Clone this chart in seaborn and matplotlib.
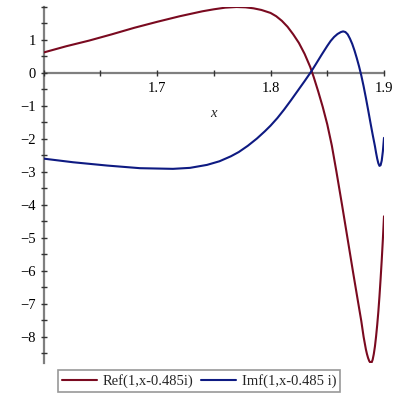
import matplotlib
matplotlib.use("Agg")
import matplotlib.pyplot as plt
import seaborn as sns
import pandas as pd
from matplotlib.ticker import MultipleLocator

# Ref curve (red)
ref_x = [1.600, 1.620, 1.640, 1.660, 1.680, 1.700, 1.720, 1.740, 1.750, 1.760,
         1.770, 1.778, 1.785, 1.792, 1.800, 1.805, 1.810, 1.815, 1.820, 1.825,
         1.830, 1.835, 1.838, 1.842, 1.846, 1.850, 1.854, 1.858, 1.863, 1.868,
         1.873, 1.877, 1.880, 1.882, 1.884, 1.885, 1.886, 1.887, 1.888, 1.889,
         1.890, 1.891, 1.892, 1.893, 1.894, 1.895, 1.896, 1.897, 1.898, 1.899,
         1.900]
ref_y = [0.62, 0.81, 0.98, 1.17, 1.37, 1.55, 1.72, 1.87, 1.93, 1.98,
         2.00, 1.99, 1.96, 1.91, 1.82, 1.72, 1.58, 1.40, 1.17, 0.91,
         0.58, 0.18, -0.12, -0.56, -1.03, -1.56, -2.20, -2.98, -4.00, -5.05,
         -6.10, -6.92, -7.53, -8.00, -8.38, -8.53, -8.65, -8.74, -8.79, -8.79,
         -8.70, -8.53, -8.30, -8.00, -7.65, -7.25, -6.78, -6.25, -5.68, -5.05,
         -4.35]

# Imf curve (blue)
imf_x = [1.600, 1.626, 1.656, 1.685, 1.714, 1.729, 1.744, 1.755, 1.765, 1.772,
         1.780, 1.788, 1.795, 1.800, 1.806, 1.812, 1.818, 1.824, 1.830, 1.836,
         1.840, 1.845, 1.850, 1.853, 1.856, 1.859, 1.862, 1.864, 1.866, 1.868,
         1.870, 1.872, 1.874, 1.876, 1.878, 1.880, 1.882, 1.884, 1.886, 1.888,
         1.890, 1.892, 1.893, 1.894, 1.895, 1.896, 1.897, 1.898, 1.899, 1.900]
imf_y = [-2.60, -2.71, -2.81, -2.89, -2.91, -2.88, -2.79, -2.68, -2.53, -2.40,
         -2.21, -1.99, -1.77, -1.60, -1.37, -1.11, -0.83, -0.54, -0.25, 0.05,
         0.27, 0.55, 0.82, 0.97, 1.09, 1.18, 1.24, 1.26, 1.24, 1.17,
         1.04, 0.88, 0.68, 0.45, 0.20, -0.08, -0.40, -0.75, -1.12, -1.50,
         -1.87, -2.22, -2.42, -2.60, -2.74, -2.82, -2.80, -2.66, -2.38, -1.97]

labels = ["Ref(1,x-0.485i)", "Imf(1,x-0.485 i)"]
colors = ["#7a0a20", "#0e1a82"]
x_ticks = [1.7, 1.8, 1.9]
y_ticks = [-8, -7, -6, -5, -4, -3, -2, -1, 0, 1]

sns.set_style("white")
plt.rcParams["font.family"] = ["Liberation Serif", "DejaVu Serif"]

fig = plt.figure(figsize=(4, 4), dpi=100)
ax = fig.add_axes([0.109, 0.0925, 0.851, 0.89])

df_ref = pd.DataFrame({"x": ref_x, "y": ref_y})
df_imf = pd.DataFrame({"x": imf_x, "y": imf_y})
sns.lineplot(data=df_ref, x="x", y="y", ax=ax, color=colors[0], lw=1.5,
             estimator=None, sort=False, label=labels[0])
sns.lineplot(data=df_imf, x="x", y="y", ax=ax, color=colors[1], lw=1.5,
             estimator=None, sort=False, label=labels[1])
for ln in ax.get_lines():
    ln.set_solid_joinstyle("round")

ax.set_xlim(1.6, 1.9)
ax.set_ylim(-8.8, 2.0)

for s in ["top", "right"]:
    ax.spines[s].set_visible(False)
ax.spines["left"].set_position(("data", 1.6))
ax.spines["bottom"].set_position(("data", 0))
for s in ["left", "bottom"]:
    ax.spines[s].set_color("#7f7f7f")
    ax.spines[s].set_linewidth(1.6)
    ax.spines[s].set_zorder(0)

ax.set_xticks(x_ticks)
ax.set_yticks(y_ticks)
ax.xaxis.set_minor_locator(MultipleLocator(0.05))
ax.yaxis.set_minor_locator(MultipleLocator(0.5))
ax.tick_params(axis="both", which="major", direction="inout", length=5,
               width=1, color="#333333", labelsize=10.5, labelcolor="black")
ax.tick_params(axis="both", which="minor", direction="inout", length=4,
               width=1, color="#333333")
ax.tick_params(axis="x", which="both", bottom=True, pad=4)
ax.tick_params(axis="y", which="both", left=True, pad=3)

ax.set_xlabel("x", fontstyle="italic", fontsize=10.5)
ax.xaxis.set_label_coords(0.4975, 0.719)
ax.set_ylabel("")
ax.grid(False)

ax.get_legend().remove()
handles, _ = ax.get_legend_handles_labels()
leg = fig.legend(handles, labels, loc="center", bbox_to_anchor=(0.4975, 0.0475),
                 ncol=2, frameon=True, fancybox=False, fontsize=10.5,
                 handlelength=2.4, columnspacing=0.5, handletextpad=0.4,
                 borderpad=0.25, borderaxespad=0)
leg.get_frame().set_edgecolor("#7f7f7f")
leg.get_frame().set_linewidth(1.2)

fig.savefig("out.png", dpi=100)
